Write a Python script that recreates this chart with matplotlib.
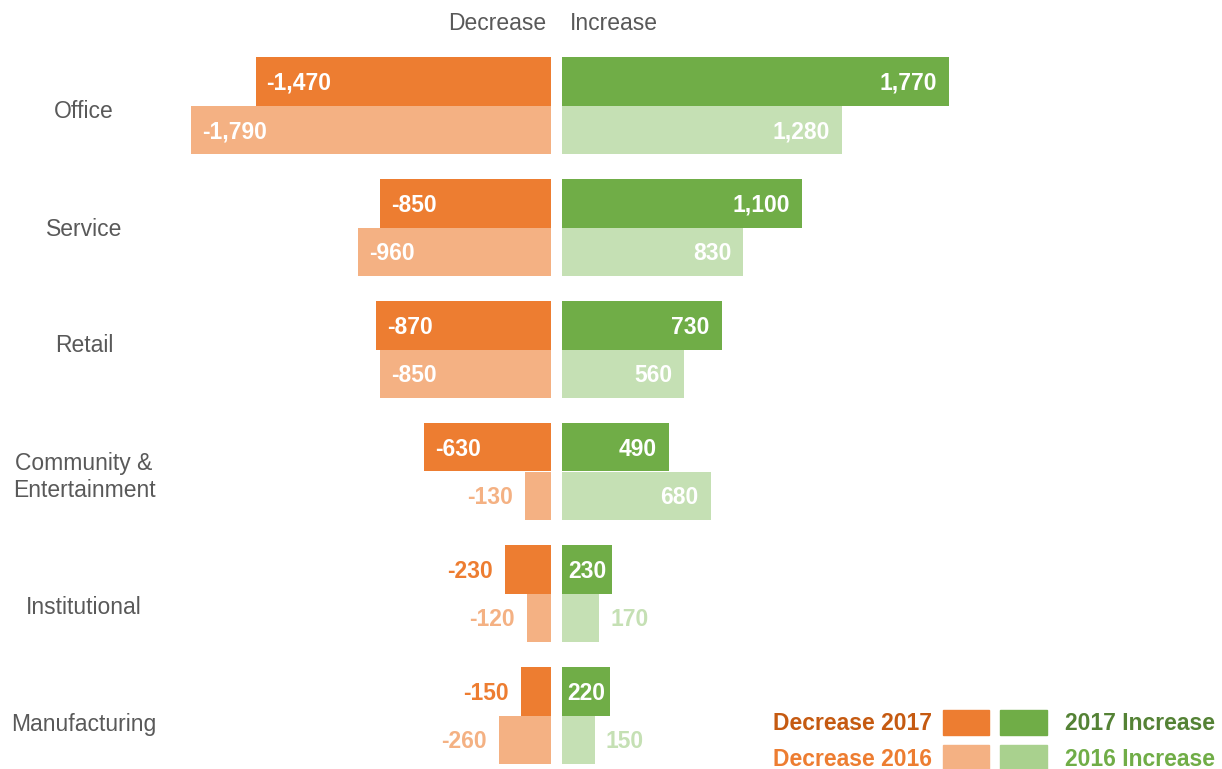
import matplotlib.pyplot as plt
from matplotlib.patches import Rectangle

plt.rcParams['font.family'] = ['Liberation Sans', 'DejaVu Sans']

# Datos por categoría
categorias = ['Office', 'Service', 'Retail', 'Community &\nEntertainment',
              'Institutional', 'Manufacturing']
dec_2017 = [-1470, -850, -870, -630, -230, -150]
dec_2016 = [-1790, -960, -850, -130, -120, -260]
inc_2017 = [1770, 1100, 730, 490, 230, 220]
inc_2016 = [1280, 830, 560, 680, 170, 150]

naranja = '#ED7D31'
naranja_claro = '#F4B183'
verde = '#70AD47'
verde_claro = '#C5E0B4'
gris = '#595959'

W, H = 1222, 769
fig = plt.figure(figsize=(W / 100, H / 100), dpi=100)

def px(x0, x1):
    return [x0 / W, 0, (x1 - x0) / W, 1]

ax_izq = fig.add_axes(px(149, 551))
ax_der = fig.add_axes(px(562, 999))
ax_izq.set_xlim(-2000, 0)
ax_der.set_xlim(0, 2000)

# filas centradas en 105.5 px + 122 px por categoría
paso = 122
y_top = -105.5 / paso
y_bot = (H - 105.5) / paso
for ax in (ax_izq, ax_der):
    ax.set_ylim(y_bot, y_top)
    ax.axis('off')

filas = list(range(len(categorias)))
alto = 0.4
y17 = [i - alto / 2 for i in filas]
y16 = [i + alto / 2 for i in filas]

ax_izq.barh(y17, dec_2017, height=alto, color=naranja)
ax_izq.barh(y16, dec_2016, height=alto, color=naranja_claro)
ax_der.barh(y17, inc_2017, height=alto, color=verde)
ax_der.barh(y16, inc_2016, height=alto, color=verde_claro)

# unidades de datos por pixel en cada eje
u_izq = 2000 / (551 - 149)
u_der = 2000 / (999 - 562)
dy = 2 / paso  # bajar un poco el texto

def etiqueta(v):
    return f'{v:,}'

fs = 16.5
for y, vals, col in [(y17, dec_2017, naranja), (y16, dec_2016, naranja_claro)]:
    for yy, v in zip(y, vals):
        if v <= -300:
            ax_izq.text(v + 11 * u_izq, yy + dy, etiqueta(v), ha='left', va='center',
                        color='white', fontsize=fs, fontweight='bold')
        else:
            ax_izq.text(v - 12 * u_izq, yy + dy, etiqueta(v), ha='right', va='center',
                        color=col, fontsize=fs, fontweight='bold')

for y, vals, col in [(y17, inc_2017, verde), (y16, inc_2016, verde_claro)]:
    for yy, v in zip(y, vals):
        if v >= 300:
            ax_der.text(v - 12 * u_der, yy + dy, etiqueta(v), ha='right', va='center',
                        color='white', fontsize=fs, fontweight='bold')
        elif v >= 200:
            ax_der.text(v / 2, yy + dy, etiqueta(v), ha='center', va='center',
                        color='white', fontsize=fs, fontweight='bold')
        else:
            ax_der.text(v + 11 * u_der, yy + dy, etiqueta(v), ha='left', va='center',
                        color=col, fontsize=fs, fontweight='bold')

# nombres de categoría
y_cat = [112, 229, 346, 477, 607, 724]
for yc, c in zip(y_cat, categorias):
    fig.text(84 / W, 1 - yc / H, c, ha='center', va='center',
             color=gris, fontsize=fs, linespacing=1.2)

# encabezados
fig.text(546 / W, 1 - 23 / H, 'Decrease', ha='right', va='center',
         color=gris, fontsize=fs)
fig.text(570 / W, 1 - 23 / H, 'Increase', ha='left', va='center',
         color=gris, fontsize=fs)

# leyenda manual
leyenda = [
    (722, 'Decrease 2017', '#C55A11', naranja, verde, '2017 Increase', '#548235'),
    (757, 'Decrease 2016', naranja, naranja_claro, '#A9D18E', '2016 Increase', verde),
]
for yc, t1, c1, p1, p2, t2, c2 in leyenda:
    fig.text(932 / W, 1 - (yc + 2) / H, t1, ha='right', va='center', color=c1,
             fontsize=fs, fontweight='bold')
    fig.patches.append(Rectangle((943 / W, 1 - (yc + 12.5) / H), 46 / W, 25 / H,
                                 transform=fig.transFigure, color=p1))
    fig.patches.append(Rectangle((1000 / W, 1 - (yc + 12.5) / H), 47 / W, 25 / H,
                                 transform=fig.transFigure, color=p2))
    fig.text(1065 / W, 1 - (yc + 2) / H, t2, ha='left', va='center', color=c2,
             fontsize=fs, fontweight='bold')

fig.savefig('out.png', dpi=100)
